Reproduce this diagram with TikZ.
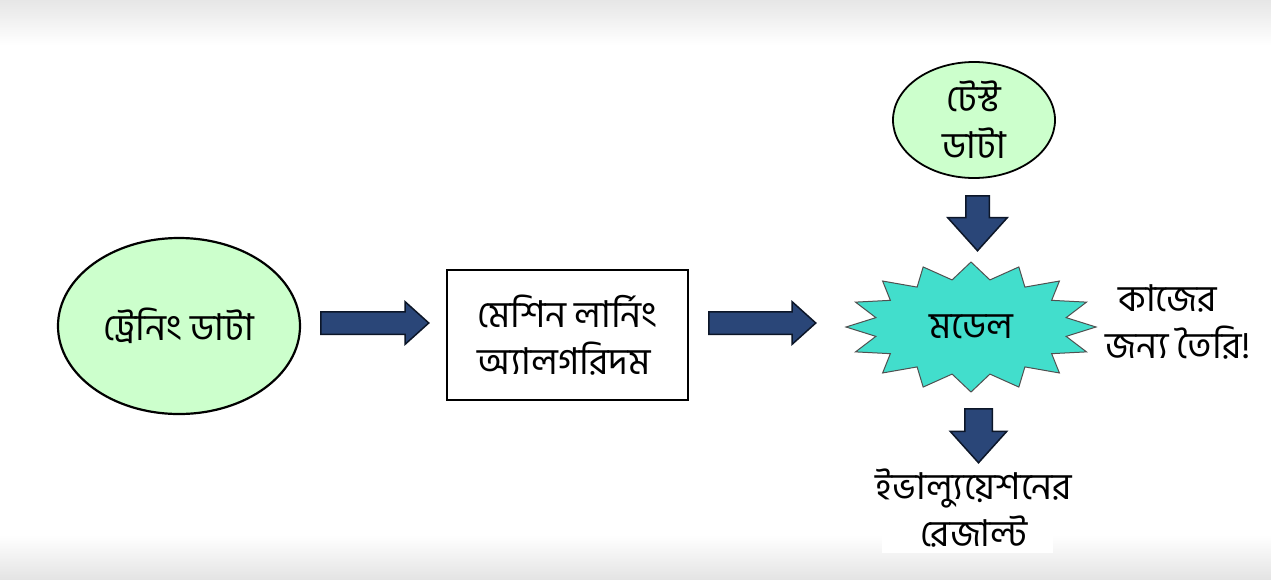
\documentclass[tikz,border=0pt]{standalone}
\usepackage{fontspec}
\newfontfamily\bn[Script=Bengali]{Hind Siliguri}
\usetikzlibrary{shapes.geometric,shapes.arrows}

\definecolor{datagreen}{RGB}{204,255,204}
\definecolor{modelcyan}{RGB}{66,222,204}
\definecolor{arrowblue}{RGB}{42,70,120}
\definecolor{arrowedge}{RGB}{12,22,40}

\tikzset{
  bntext/.style={font=\bn\fontsize{37}{47}\selectfont, align=center},
  datanode/.style={ellipse, draw=black, line width=2.2pt, fill=datagreen, bntext, inner sep=0pt},
  algobox/.style={rectangle, draw=black, line width=2.2pt, fill=white, bntext, align=left,
    minimum width=241pt, minimum height=130pt},
  blockarrow/.style={single arrow, draw=arrowedge, line width=1.5pt, fill=arrowblue,
    single arrow tip angle=84, anchor=tail},
  modelstar/.style={draw={rgb,255:red,80;green,80;blue,80}, line width=1pt, fill=modelcyan},
}

\begin{document}
\begin{tikzpicture}[x=1pt,y=-1pt]
  \useasboundingbox (0,0) rectangle (1271,579);
  % background of the slide
  \fill[white] (0,0) rectangle (1271,579);
  \shade[top color={rgb,255:red,230;green,230;blue,230}, bottom color=white] (0,0) rectangle (1271,45);
  \shade[top color=white, bottom color={rgb,255:red,228;green,228;blue,228}] (0,535) rectangle (1271,579);
  \fill[white] (882,500) rectangle (1053,553);

  % data
  \node[datanode, minimum width=242pt, minimum height=176pt] (train) at (179,326) {ট্রেনিং ডাটা};
  \node[datanode, line width=1.8pt, minimum width=162pt, minimum height=116pt] (test) at (974,120) {টেস্ট\\ডাটা};

  % algorithm
  \node[algobox] (algo) at (567.5,335) {মেশিন লার্নিং\\অ্যালগরিদম};

  % model
  \begin{scope}[shift={(971,327)}]
    \draw[modelstar] (0:125 and 65)
      \foreach \a in {11.25,33.75,...,348.75} { -- (\a:97 and 48) -- (\a+11.25:125 and 65) } -- cycle;
  \end{scope}
  \node[bntext] (model) at (971,327) {মডেল};

  \node[bntext, align=left, anchor=west] (ready) at (1102,322) {\hspace*{13pt}কাজের\\জন্য তৈরি!};
  \node[bntext] (result) at (974,508) {ইভাল্যুয়েশনের\\রেজাল্ট};

  % arrows
  \node[blockarrow, inner sep=10.5pt, single arrow head extend=10pt, minimum height=108pt] (arr1) at (320,323) {};
  \node[blockarrow, inner sep=10.5pt, single arrow head extend=10pt, minimum height=107pt] (arr2) at (708,323) {};
  \node[blockarrow, shape border rotate=270, inner sep=11pt, single arrow head extend=18pt, minimum height=55pt] (arr3) at (977.5,195) {};
  \node[blockarrow, shape border rotate=270, inner sep=13pt, single arrow head extend=14.5pt, minimum height=54pt] (arr4) at (978.5,408) {};
\end{tikzpicture}
\end{document}
